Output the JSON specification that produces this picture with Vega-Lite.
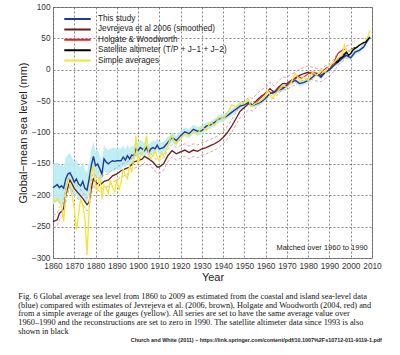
{
  "$schema": "https://vega.github.io/schema/vega-lite/v6.json",
  "width": 319,
  "height": 251,
  "autosize": {"type": "none"},
  "padding": {"left": 53, "top": 7, "right": 28, "bottom": 97},
  "background": "white",
  "config": {
    "font": "Liberation Sans",
    "view": {"stroke": "#8a8a8a", "strokeWidth": 1},
    "axis": {"labelFontSize": 8.3, "labelColor": "#333", "titleColor": "#222", "titleFontWeight": "normal", "domain": false, "ticks": false, "grid": true, "gridDash": [2, 2], "gridColor": "#555", "gridWidth": 0.7, "labelPadding": 3, "labelOverlap": false, "labelFlush": false}
  },
  "title": {
    "text": [
      "Fig. 6  Global average sea level from 1860 to 2009 as estimated from the coastal and island sea-level data",
      "(blue) compared with estimates of Jevrejeva et al. (2006, brown), Holgate and Woodworth (2004, red) and",
      "from a simple average of the gauges (yellow). All series are set to have the same average value over",
      "1960–1990 and the reconstructions are set to zero in 1990. The satellite altimeter data since 1993 is also",
      "shown in black"
    ],
    "orient": "bottom",
    "anchor": "start",
    "frame": "bounds",
    "font": "Liberation Serif",
    "fontSize": 8.3,
    "fontWeight": "normal",
    "lineHeight": 8.7,
    "color": "#111",
    "offset": -51,
    "dx": 1
  },
  "datasets": {
    "study": [
      {"year": 1860, "level": -188, "lo": -215, "hi": -150},
      {"year": 1862, "level": -183, "lo": -210, "hi": -148},
      {"year": 1863, "level": -188, "lo": -214, "hi": -152},
      {"year": 1864, "level": -185, "lo": -212, "hi": -150},
      {"year": 1865, "level": -189, "lo": -215, "hi": -155},
      {"year": 1866, "level": -174, "lo": -200, "hi": -140},
      {"year": 1867, "level": -166, "lo": -192, "hi": -135},
      {"year": 1868, "level": -164, "lo": -190, "hi": -133},
      {"year": 1869, "level": -171, "lo": -196, "hi": -140},
      {"year": 1870, "level": -179, "lo": -204, "hi": -148},
      {"year": 1871, "level": -174, "lo": -198, "hi": -143},
      {"year": 1872, "level": -182, "lo": -206, "hi": -152},
      {"year": 1873, "level": -185, "lo": -208, "hi": -155},
      {"year": 1874, "level": -178, "lo": -200, "hi": -148},
      {"year": 1875, "level": -189, "lo": -210, "hi": -160},
      {"year": 1876, "level": -192, "lo": -212, "hi": -163},
      {"year": 1877, "level": -174, "lo": -195, "hi": -146},
      {"year": 1878, "level": -153, "lo": -172, "hi": -128},
      {"year": 1879, "level": -138, "lo": -158, "hi": -115},
      {"year": 1880, "level": -153, "lo": -172, "hi": -130},
      {"year": 1881, "level": -150, "lo": -168, "hi": -127},
      {"year": 1882, "level": -158, "lo": -176, "hi": -136},
      {"year": 1883, "level": -166, "lo": -183, "hi": -145},
      {"year": 1884, "level": -142, "lo": -160, "hi": -120},
      {"year": 1885, "level": -147, "lo": -164, "hi": -126},
      {"year": 1886, "level": -150, "lo": -166, "hi": -128},
      {"year": 1887, "level": -147, "lo": -163, "hi": -126},
      {"year": 1888, "level": -145, "lo": -161, "hi": -124},
      {"year": 1889, "level": -146, "lo": -162, "hi": -125},
      {"year": 1890, "level": -145, "lo": -160, "hi": -125},
      {"year": 1892, "level": -145, "lo": -159, "hi": -126},
      {"year": 1893, "level": -139, "lo": -153, "hi": -121},
      {"year": 1894, "level": -144, "lo": -157, "hi": -127},
      {"year": 1895, "level": -137, "lo": -150, "hi": -120},
      {"year": 1896, "level": -142, "lo": -155, "hi": -126},
      {"year": 1897, "level": -136, "lo": -148, "hi": -121},
      {"year": 1898, "level": -137, "lo": -149, "hi": -123},
      {"year": 1899, "level": -126, "lo": -138, "hi": -112},
      {"year": 1900, "level": -129, "lo": -140, "hi": -116},
      {"year": 1901, "level": -124, "lo": -135, "hi": -112},
      {"year": 1902, "level": -126, "lo": -137, "hi": -114},
      {"year": 1903, "level": -129, "lo": -140, "hi": -117},
      {"year": 1904, "level": -124, "lo": -134, "hi": -112},
      {"year": 1905, "level": -132, "lo": -142, "hi": -120},
      {"year": 1906, "level": -126, "lo": -136, "hi": -115},
      {"year": 1907, "level": -124, "lo": -134, "hi": -113},
      {"year": 1908, "level": -126, "lo": -135, "hi": -115},
      {"year": 1909, "level": -120, "lo": -129, "hi": -110},
      {"year": 1910, "level": -126, "lo": -135, "hi": -116},
      {"year": 1912, "level": -124, "lo": -132, "hi": -115},
      {"year": 1914, "level": -116, "lo": -124, "hi": -107},
      {"year": 1916, "level": -108, "lo": -116, "hi": -100},
      {"year": 1918, "level": -113, "lo": -121, "hi": -105},
      {"year": 1920, "level": -105, "lo": -112, "hi": -97},
      {"year": 1922, "level": -99, "lo": -106, "hi": -92},
      {"year": 1924, "level": -102, "lo": -109, "hi": -95},
      {"year": 1926, "level": -95, "lo": -102, "hi": -88},
      {"year": 1928, "level": -98, "lo": -105, "hi": -91},
      {"year": 1930, "level": -97, "lo": -103, "hi": -90},
      {"year": 1932, "level": -90, "lo": -96, "hi": -84},
      {"year": 1934, "level": -88, "lo": -94, "hi": -82},
      {"year": 1936, "level": -84, "lo": -90, "hi": -78},
      {"year": 1938, "level": -78, "lo": -84, "hi": -72},
      {"year": 1940, "level": -77, "lo": -83, "hi": -71},
      {"year": 1942, "level": -73, "lo": -78, "hi": -67},
      {"year": 1944, "level": -68, "lo": -73, "hi": -62},
      {"year": 1946, "level": -63, "lo": -68, "hi": -58},
      {"year": 1948, "level": -58, "lo": -63, "hi": -53},
      {"year": 1950, "level": -56, "lo": -61, "hi": -51},
      {"year": 1952, "level": -52, "lo": -57, "hi": -47},
      {"year": 1954, "level": -57, "lo": -61, "hi": -52},
      {"year": 1956, "level": -54, "lo": -58, "hi": -50},
      {"year": 1958, "level": -51, "lo": -55, "hi": -47},
      {"year": 1960, "level": -45, "lo": -49, "hi": -41},
      {"year": 1962, "level": -38, "lo": -42, "hi": -34},
      {"year": 1964, "level": -36, "lo": -40, "hi": -32},
      {"year": 1966, "level": -33, "lo": -37, "hi": -29},
      {"year": 1968, "level": -30, "lo": -34, "hi": -26},
      {"year": 1970, "level": -25, "lo": -29, "hi": -21},
      {"year": 1972, "level": -20, "lo": -24, "hi": -16},
      {"year": 1974, "level": -17, "lo": -21, "hi": -13},
      {"year": 1976, "level": -22, "lo": -26, "hi": -18},
      {"year": 1978, "level": -20, "lo": -24, "hi": -16},
      {"year": 1980, "level": -17, "lo": -21, "hi": -13},
      {"year": 1982, "level": -12, "lo": -16, "hi": -8},
      {"year": 1984, "level": -6, "lo": -10, "hi": -2},
      {"year": 1986, "level": -12, "lo": -16, "hi": -8},
      {"year": 1988, "level": -4, "lo": -8, "hi": 0},
      {"year": 1990, "level": 0, "lo": -4, "hi": 4},
      {"year": 1992, "level": 7, "lo": 3, "hi": 11},
      {"year": 1994, "level": 12, "lo": 8, "hi": 16},
      {"year": 1996, "level": 18, "lo": 14, "hi": 22},
      {"year": 1998, "level": 23, "lo": 19, "hi": 27},
      {"year": 2000, "level": 19, "lo": 15, "hi": 23},
      {"year": 2002, "level": 28, "lo": 24, "hi": 32},
      {"year": 2004, "level": 31, "lo": 27, "hi": 35},
      {"year": 2006, "level": 36, "lo": 32, "hi": 40},
      {"year": 2008, "level": 47, "lo": 43, "hi": 51},
      {"year": 2009, "level": 52, "lo": 48, "hi": 56}
    ],
    "jevrejeva": [
      {"year": 1860, "level": -242, "lo": -252, "hi": -232},
      {"year": 1862, "level": -239, "lo": -249, "hi": -229},
      {"year": 1863, "level": -229, "lo": -239, "hi": -219},
      {"year": 1864, "level": -226, "lo": -236, "hi": -216},
      {"year": 1865, "level": -221, "lo": -231, "hi": -211},
      {"year": 1866, "level": -200, "lo": -210, "hi": -190},
      {"year": 1867, "level": -187, "lo": -197, "hi": -177},
      {"year": 1868, "level": -176, "lo": -186, "hi": -166},
      {"year": 1869, "level": -182, "lo": -192, "hi": -172},
      {"year": 1870, "level": -189, "lo": -199, "hi": -179},
      {"year": 1872, "level": -197, "lo": -207, "hi": -187},
      {"year": 1874, "level": -205, "lo": -215, "hi": -195},
      {"year": 1876, "level": -215, "lo": -225, "hi": -205},
      {"year": 1877, "level": -211, "lo": -221, "hi": -201},
      {"year": 1878, "level": -189, "lo": -199, "hi": -179},
      {"year": 1879, "level": -174, "lo": -184, "hi": -164},
      {"year": 1880, "level": -179, "lo": -189, "hi": -169},
      {"year": 1882, "level": -184, "lo": -194, "hi": -174},
      {"year": 1884, "level": -178, "lo": -188, "hi": -168},
      {"year": 1886, "level": -176, "lo": -186, "hi": -166},
      {"year": 1888, "level": -169, "lo": -179, "hi": -159},
      {"year": 1890, "level": -166, "lo": -176, "hi": -156},
      {"year": 1892, "level": -161, "lo": -171, "hi": -151},
      {"year": 1894, "level": -158, "lo": -168, "hi": -148},
      {"year": 1896, "level": -155, "lo": -165, "hi": -145},
      {"year": 1898, "level": -147, "lo": -157, "hi": -137},
      {"year": 1900, "level": -145, "lo": -155, "hi": -135},
      {"year": 1902, "level": -142, "lo": -152, "hi": -132},
      {"year": 1903, "level": -138, "lo": -148, "hi": -128},
      {"year": 1905, "level": -142, "lo": -152, "hi": -132},
      {"year": 1907, "level": -147, "lo": -157, "hi": -137},
      {"year": 1909, "level": -155, "lo": -165, "hi": -145},
      {"year": 1910, "level": -155, "lo": -165, "hi": -145},
      {"year": 1912, "level": -150, "lo": -160, "hi": -140},
      {"year": 1914, "level": -137, "lo": -147, "hi": -127},
      {"year": 1916, "level": -129, "lo": -139, "hi": -119},
      {"year": 1918, "level": -134, "lo": -144, "hi": -124},
      {"year": 1920, "level": -131, "lo": -141, "hi": -121},
      {"year": 1922, "level": -128, "lo": -138, "hi": -118},
      {"year": 1924, "level": -132, "lo": -142, "hi": -122},
      {"year": 1926, "level": -128, "lo": -138, "hi": -118},
      {"year": 1928, "level": -130, "lo": -140, "hi": -120},
      {"year": 1930, "level": -126, "lo": -136, "hi": -116},
      {"year": 1932, "level": -124, "lo": -134, "hi": -114},
      {"year": 1934, "level": -121, "lo": -131, "hi": -111},
      {"year": 1936, "level": -118, "lo": -128, "hi": -108},
      {"year": 1938, "level": -114, "lo": -124, "hi": -104},
      {"year": 1940, "level": -108, "lo": -118, "hi": -98},
      {"year": 1942, "level": -100, "lo": -110, "hi": -90},
      {"year": 1944, "level": -90, "lo": -100, "hi": -80},
      {"year": 1946, "level": -78, "lo": -88, "hi": -68},
      {"year": 1948, "level": -66, "lo": -76, "hi": -56},
      {"year": 1950, "level": -60, "lo": -70, "hi": -50},
      {"year": 1952, "level": -54, "lo": -64, "hi": -44},
      {"year": 1954, "level": -56, "lo": -66, "hi": -46},
      {"year": 1956, "level": -48, "lo": -58, "hi": -38},
      {"year": 1958, "level": -42, "lo": -52, "hi": -32},
      {"year": 1960, "level": -38, "lo": -48, "hi": -28},
      {"year": 1962, "level": -30, "lo": -40, "hi": -20},
      {"year": 1964, "level": -36, "lo": -46, "hi": -26},
      {"year": 1966, "level": -28, "lo": -38, "hi": -18},
      {"year": 1968, "level": -22, "lo": -32, "hi": -12},
      {"year": 1970, "level": -22, "lo": -32, "hi": -12},
      {"year": 1972, "level": -17, "lo": -27, "hi": -7},
      {"year": 1974, "level": -14, "lo": -24, "hi": -4},
      {"year": 1976, "level": -9, "lo": -19, "hi": 1},
      {"year": 1978, "level": -6, "lo": -16, "hi": 4},
      {"year": 1980, "level": -4, "lo": -14, "hi": 6},
      {"year": 1982, "level": -6, "lo": -16, "hi": 4},
      {"year": 1984, "level": -8, "lo": -18, "hi": 2},
      {"year": 1986, "level": -9, "lo": -19, "hi": 1},
      {"year": 1988, "level": -4, "lo": -14, "hi": 6},
      {"year": 1990, "level": 0, "lo": -10, "hi": 10},
      {"year": 1992, "level": 7, "lo": -3, "hi": 17},
      {"year": 1994, "level": 17, "lo": 7, "hi": 27},
      {"year": 1996, "level": 23, "lo": 13, "hi": 33},
      {"year": 1998, "level": 28, "lo": 18, "hi": 38},
      {"year": 2000, "level": 31, "lo": 21, "hi": 41},
      {"year": 2002, "level": 36, "lo": 26, "hi": 46}
    ],
    "holgate": [
      {"year": 1955, "level": -55}, {"year": 1957, "level": -47}, {"year": 1959, "level": -40},
      {"year": 1961, "level": -33}, {"year": 1963, "level": -38}, {"year": 1965, "level": -33},
      {"year": 1967, "level": -28}, {"year": 1969, "level": -28}, {"year": 1971, "level": -20},
      {"year": 1973, "level": -15}, {"year": 1975, "level": -10}, {"year": 1977, "level": -14},
      {"year": 1979, "level": -9}, {"year": 1981, "level": -4}, {"year": 1983, "level": -4},
      {"year": 1985, "level": -9}, {"year": 1987, "level": -1}, {"year": 1989, "level": 4},
      {"year": 1990, "level": 0}, {"year": 1992, "level": 12}, {"year": 1994, "level": 26},
      {"year": 1996, "level": 31}, {"year": 1998, "level": 33}
    ],
    "satellite": [
      {"year": 1993, "level": 12}, {"year": 1994, "level": 13}, {"year": 1995, "level": 18},
      {"year": 1996, "level": 20}, {"year": 1997, "level": 23}, {"year": 1998, "level": 28},
      {"year": 1999, "level": 23}, {"year": 2000, "level": 26}, {"year": 2001, "level": 31},
      {"year": 2002, "level": 34}, {"year": 2003, "level": 36}, {"year": 2004, "level": 39},
      {"year": 2005, "level": 41}, {"year": 2006, "level": 43}, {"year": 2007, "level": 44},
      {"year": 2008, "level": 48}, {"year": 2009, "level": 52}
    ],
    "simple": [
      {"year": 1860, "level": -205}, {"year": 1861, "level": -210}, {"year": 1862, "level": -205},
      {"year": 1863, "level": -210}, {"year": 1864, "level": -216}, {"year": 1865, "level": -242},
      {"year": 1866, "level": -196}, {"year": 1867, "level": -176}, {"year": 1868, "level": -184},
      {"year": 1869, "level": -201}, {"year": 1870, "level": -221}, {"year": 1871, "level": -255},
      {"year": 1872, "level": -232}, {"year": 1873, "level": -205}, {"year": 1874, "level": -216},
      {"year": 1875, "level": -237}, {"year": 1876, "level": -295}, {"year": 1877, "level": -221},
      {"year": 1878, "level": -163}, {"year": 1879, "level": -153}, {"year": 1880, "level": -184},
      {"year": 1881, "level": -192}, {"year": 1882, "level": -168}, {"year": 1883, "level": -205},
      {"year": 1884, "level": -184}, {"year": 1885, "level": -189}, {"year": 1886, "level": -197},
      {"year": 1887, "level": -176}, {"year": 1888, "level": -187}, {"year": 1889, "level": -195},
      {"year": 1890, "level": -174}, {"year": 1891, "level": -192}, {"year": 1892, "level": -179},
      {"year": 1893, "level": -158}, {"year": 1894, "level": -168}, {"year": 1895, "level": -174},
      {"year": 1896, "level": -153}, {"year": 1897, "level": -161}, {"year": 1898, "level": -142},
      {"year": 1899, "level": -105}, {"year": 1900, "level": -150}, {"year": 1901, "level": -137},
      {"year": 1902, "level": -134}, {"year": 1903, "level": -124}, {"year": 1904, "level": -105},
      {"year": 1905, "level": -134}, {"year": 1906, "level": -142}, {"year": 1907, "level": -137},
      {"year": 1908, "level": -129}, {"year": 1909, "level": -139}, {"year": 1910, "level": -145},
      {"year": 1911, "level": -132}, {"year": 1912, "level": -137}, {"year": 1913, "level": -129},
      {"year": 1914, "level": -121}, {"year": 1915, "level": -111}, {"year": 1916, "level": -105},
      {"year": 1917, "level": -116}, {"year": 1918, "level": -118}, {"year": 1920, "level": -110},
      {"year": 1922, "level": -102}, {"year": 1924, "level": -105}, {"year": 1926, "level": -99},
      {"year": 1928, "level": -102}, {"year": 1930, "level": -91}, {"year": 1932, "level": -97},
      {"year": 1934, "level": -84}, {"year": 1936, "level": -89}, {"year": 1938, "level": -76},
      {"year": 1940, "level": -78}, {"year": 1942, "level": -70}, {"year": 1944, "level": -56},
      {"year": 1946, "level": -59}, {"year": 1948, "level": -52}, {"year": 1950, "level": -54},
      {"year": 1952, "level": -47}, {"year": 1953, "level": -59}, {"year": 1955, "level": -54},
      {"year": 1957, "level": -51}, {"year": 1959, "level": -46}, {"year": 1961, "level": -33},
      {"year": 1963, "level": -46}, {"year": 1964, "level": -41}, {"year": 1966, "level": -33},
      {"year": 1968, "level": -25}, {"year": 1970, "level": -28}, {"year": 1972, "level": -20},
      {"year": 1974, "level": -6}, {"year": 1976, "level": -17}, {"year": 1978, "level": -12},
      {"year": 1980, "level": -17}, {"year": 1982, "level": -4}, {"year": 1984, "level": -9},
      {"year": 1986, "level": -1}, {"year": 1988, "level": -4}, {"year": 1990, "level": 7},
      {"year": 1992, "level": 12}, {"year": 1994, "level": 18}, {"year": 1996, "level": 23},
      {"year": 1997, "level": 39}, {"year": 1998, "level": 28}, {"year": 2000, "level": 31},
      {"year": 2002, "level": 34}, {"year": 2004, "level": 39}, {"year": 2006, "level": 41},
      {"year": 2008, "level": 52}, {"year": 2009, "level": 63}
    ],
    "notes": [
      {"year": 2008, "level": -284, "label": "Matched over 1960 to 1990", "kind": "note"},
      {"year": 2014.6, "level": -430, "label": "Church and White (2011) – https://link.springer.com/content/pdf/10.1007%2Fs10712-011-9119-1.pdf", "kind": "cite"}
    ]
  },
  "encoding": {
    "x": {"field": "year", "type": "quantitative", "scale": {"domain": [1860, 2010], "nice": false},
      "axis": {"values": [1860, 1870, 1880, 1890, 1900, 1910, 1920, 1930, 1940, 1950, 1960, 1970, 1980, 1990, 2000, 2010], "format": "d", "title": "Year", "titleFontSize": 11, "titlePadding": 2}},
    "y": {"field": "level", "type": "quantitative", "scale": {"domain": [-300, 100], "nice": false},
      "axis": {"values": [-300, -250, -200, -150, -100, -50, 0, 50, 100], "title": "Global−mean sea level (mm)", "titleFontSize": 11, "titlePadding": 3}}
  },
  "layer": [
    {
      "data": {"name": "study"},
      "mark": {"type": "area", "color": "#b9ecf4", "opacity": 0.9},
      "encoding": {"y": {"field": "lo", "type": "quantitative"}, "y2": {"field": "hi"}}
    },
    {
      "data": {"name": "jevrejeva"},
      "mark": {"type": "line", "color": "#e08a8a", "strokeDash": [3, 2], "strokeWidth": 0.8},
      "encoding": {"y": {"field": "lo", "type": "quantitative"}}
    },
    {
      "data": {"name": "jevrejeva"},
      "mark": {"type": "line", "color": "#e08a8a", "strokeDash": [3, 2], "strokeWidth": 0.8},
      "encoding": {"y": {"field": "hi", "type": "quantitative"}}
    },
    {
      "data": {"name": "jevrejeva"},
      "mark": {"type": "line", "strokeWidth": 1.3},
      "encoding": {"color": {"datum": "Jevrejeva et al 2006 (smoothed)", "type": "nominal",
        "scale": {"domain": ["This study", "Jevrejeva et al 2006 (smoothed)", "Holgate & Woodworth", "Satellite altimeter (T/P + J−1 + J−2)", "Simple averages"],
          "range": ["#1f3a9e", "#6e1a1f", "#e5221b", "#000000", "#f2e62e"]},
        "legend": {"orient": "none", "legendX": 10, "legendY": 8, "title": null, "symbolType": "stroke", "symbolSize": 700, "symbolStrokeWidth": 2, "clipHeight": 8, "labelFontSize": 8.2, "labelColor": "#222", "labelOffset": 6, "rowPadding": 1.4, "padding": 0}}}
    },
    {
      "data": {"name": "holgate"},
      "mark": {"type": "line", "strokeWidth": 1.1},
      "encoding": {"color": {"datum": "Holgate & Woodworth", "type": "nominal"}}
    },
    {
      "data": {"name": "study"},
      "mark": {"type": "line", "strokeWidth": 1.4},
      "encoding": {"color": {"datum": "This study", "type": "nominal"}}
    },
    {
      "data": {"name": "simple"},
      "mark": {"type": "line", "strokeWidth": 1.3},
      "encoding": {"color": {"datum": "Simple averages", "type": "nominal"}}
    },
    {
      "data": {"name": "satellite"},
      "mark": {"type": "line", "strokeWidth": 1.4},
      "encoding": {"color": {"datum": "Satellite altimeter (T/P + J−1 + J−2)", "type": "nominal"}}
    },
    {
      "data": {"name": "notes"},
      "transform": [{"filter": "datum.kind == 'note'"}],
      "mark": {"type": "text", "align": "right", "baseline": "middle", "fontSize": 7.5, "color": "#222"},
      "encoding": {"text": {"field": "label"}}
    },
    {
      "data": {"name": "notes"},
      "transform": [{"filter": "datum.kind == 'cite'"}],
      "mark": {"type": "text", "align": "right", "baseline": "middle", "fontSize": 5.4, "fontWeight": "bold", "color": "#222"},
      "encoding": {"text": {"field": "label"}}
    }
  ]
}
